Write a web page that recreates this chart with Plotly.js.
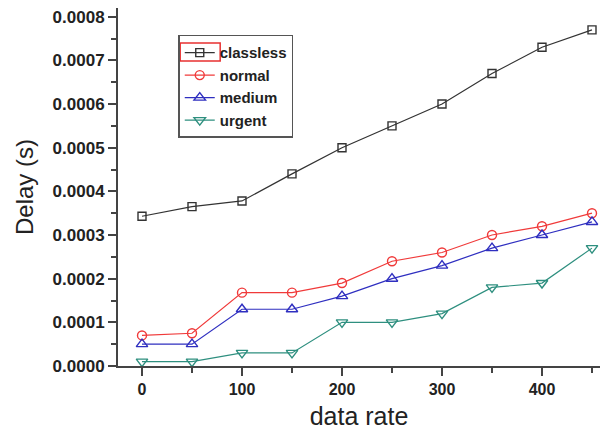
<!DOCTYPE html>
<html><head><meta charset="utf-8">
<script src="https://cdn.plot.ly/plotly-3.0.1.min.js"></script>
<style>body{margin:0;background:#fff}#c{width:606px;height:432px}</style>
</head><body><div id="c"></div>
<script>
const dataRate = [0, 50, 100, 150, 200, 250, 300, 350, 400, 450];
const classless = [0.000343, 0.000365, 0.000378, 0.00044, 0.0005, 0.00055, 0.0006, 0.00067, 0.00073, 0.00077];
const normal = [0.00007, 0.000075, 0.000168, 0.000168, 0.00019, 0.00024, 0.00026, 0.0003, 0.00032, 0.00035];
const medium = [0.00005, 0.00005, 0.00013, 0.00013, 0.00016, 0.0002, 0.00023, 0.00027, 0.0003, 0.00033];
const urgent = [0.00001, 0.00001, 0.00003, 0.00003, 0.0001, 0.0001, 0.00012, 0.00018, 0.00019, 0.00027];
const yTicks = [0, 0.0001, 0.0002, 0.0003, 0.0004, 0.0005, 0.0006, 0.0007, 0.0008];
const yTickText = ['0.0000','0.0001','0.0002','0.0003','0.0004','0.0005','0.0006','0.0007','0.0008'];

function tr(name, y, color, symbol, size) {
  return {x: dataRate, y: y, name: name, type: 'scatter', mode: 'lines+markers',
    line: {color: color, width: 1.2},
    marker: {symbol: symbol, size: size, color: color, line: {color: color, width: 1.4}}};
}
const data = [
  tr('classless', classless, '#333333', 'square-open', 8),
  tr('normal', normal, '#f03a3a', 'circle-open', 9),
  tr('medium', medium, '#2f2fc0', 'triangle-up-open', 10),
  tr('urgent', urgent, '#2e8f7f', 'triangle-down-open', 10)
];
const FAM = 'Liberation Sans, Arial, sans-serif';
const layout = {
  width: 606, height: 432,
  margin: {l: 118, r: 6, t: 8, b: 66},
  paper_bgcolor: '#fff', plot_bgcolor: '#fff',
  showlegend: true,
  legend: {x: 0.125, y: 0.925, xanchor: 'left', yanchor: 'top', bordercolor: '#555', borderwidth: 1.5,
    bgcolor: 'rgba(0,0,0,0)', font: {family: FAM, size: 15, color: '#222', weight: 'bold'},
    tracegroupgap: 0, itemwidth: 30},
  xaxis: {range: [-24, 458], showgrid: false, zeroline: false, showline: true, linecolor: '#444', linewidth: 2,
    ticks: 'outside', ticklen: 8, tickwidth: 2, tickcolor: '#444', tickvals: [0,100,200,300,400],
    tickfont: {family: FAM, size: 16, color: '#222', weight: 'bold'},
    minor: {tickvals: [50,150,250,350,450], ticks: 'outside', ticklen: 5, tickwidth: 2, tickcolor: '#444'},
    title: {text: 'data rate', font: {family: FAM, size: 25, color: '#222'}, standoff: 10}},
  yaxis: {range: [0, 0.00082], showgrid: false, zeroline: false, showline: true, linecolor: '#444', linewidth: 2,
    ticks: 'outside', ticklen: 8, tickwidth: 2, tickcolor: '#444', tickvals: yTicks, ticktext: yTickText,
    tickfont: {family: FAM, size: 17, color: '#222', weight: 'bold'},
    minor: {tickvals: [0.00005,0.00015,0.00025,0.00035,0.00045,0.00055,0.00065,0.00075], ticks: 'outside', ticklen: 5, tickwidth: 2, tickcolor: '#444'},
    title: {text: 'Delay (s)', font: {family: FAM, size: 24, color: '#222'}, standoff: 12}},
  shapes: [{type: 'rect', xref: 'paper', yref: 'paper', x0: 0.129, x1: 0.212, y0: 0.852, y1: 0.902,
    line: {color: '#e83030', width: 1.5}, fillcolor: 'rgba(0,0,0,0)'}]
};
Plotly.newPlot('c', data, layout, {displayModeBar: false});
</script></body></html>
